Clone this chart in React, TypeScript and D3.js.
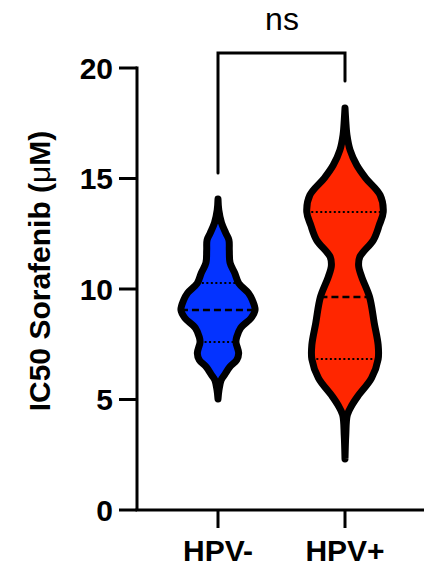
import React from "react";
import * as d3 from "d3";

const categories = ["HPV-", "HPV+"];
const colors = ["#0433FF", "#FF2600"];
const yTicks = [0, 5, 10, 15, 20];

// Violin profiles: value (µM) and relative density
const hpvNegValues = [14.07, 13.57, 12.99, 12.53, 12.22, 11.76, 11.18, 10.72, 10.27, 9.82, 9.5, 9.05, 8.69, 8.24, 7.83, 7.6, 7.1, 6.79, 6.47, 6.15, 5.88, 5.43, 5.02];
const hpvNegDensity = [0, 0.02, 0.09, 0.2, 0.28, 0.29, 0.31, 0.43, 0.53, 0.78, 0.88, 0.95, 0.85, 0.58, 0.48, 0.46, 0.53, 0.48, 0.3, 0.18, 0.08, 0.025, 0];
const hpvPosValues = [18.19, 17.65, 16.97, 16.29, 15.61, 15.02, 14.25, 13.48, 12.9, 12.22, 11.45, 11.04, 10.54, 9.64, 8.46, 7.47, 6.83, 5.97, 5.2, 4.75, 4.3, 3.39, 2.31];
const hpvPosDensity = [0, 0.018, 0.05, 0.13, 0.3, 0.53, 0.9, 0.98, 0.88, 0.73, 0.38, 0.35, 0.43, 0.63, 0.75, 0.85, 0.85, 0.68, 0.35, 0.18, 0.06, 0.02, 0];

// quartiles: [Q1, median, Q3]
const hpvNegQuartiles = [7.6, 9.05, 10.27];
const hpvPosQuartiles = [6.83, 9.64, 13.48];

const sigLabel = "ns";

export default function App() {
  const W = 424, H = 568;
  const y = d3.scaleLinear().domain([0, 20]).range([510, 68]);
  const x = d3.scalePoint().domain(categories).range([218, 345]);
  const w = d3.scaleLinear().domain([0, 1]).range([0, 39]);
  const axisX = 137;

  const groups = [
    { name: categories[0], vals: hpvNegValues, dens: hpvNegDensity, q: hpvNegQuartiles, color: colors[0] },
    { name: categories[1], vals: hpvPosValues, dens: hpvPosDensity, q: hpvPosQuartiles, color: colors[1] },
  ];

  const font = "'Liberation Sans', Arial, Helvetica, sans-serif";

  const densAt = (vals: number[], dens: number[], v: number) => {
    const pts = vals.map((vv, i) => [vv, dens[i]]).sort((a, b) => a[0] - b[0]);
    for (let i = 0; i < pts.length - 1; i++) {
      if (v >= pts[i][0] && v <= pts[i + 1][0]) {
        const t = (v - pts[i][0]) / (pts[i + 1][0] - pts[i][0]);
        return pts[i][1] + t * (pts[i + 1][1] - pts[i][1]);
      }
    }
    return 0;
  };

  return (
    <svg width={W} height={H} style={{ position: "absolute", left: 0, top: 0 }}>
      <rect width={W} height={H} fill="#fff" />
      {groups.map((g) => {
        const cx = x(g.name)!;
        const data = g.vals.map((v, i) => ({ v, d: g.dens[i] }));
        const area = d3
          .area<{ v: number; d: number }>()
          .y((d) => y(d.v))
          .x0((d) => cx - w(d.d))
          .x1((d) => cx + w(d.d))
          .curve(d3.curveCatmullRom.alpha(0.5));
        const p = area(data) || "";
        return (
          <g key={g.name}>
            <path d={p} fill={g.color} stroke="none" />
            {g.q.map((qv, i) => {
              const hw = w(densAt(g.vals, g.dens, qv));
              return (
                <line
                  key={i}
                  x1={cx - hw}
                  x2={cx + hw}
                  y1={y(qv)}
                  y2={y(qv)}
                  stroke="#000"
                  strokeWidth={i === 1 ? 2.5 : 2}
                  strokeDasharray={i === 1 ? "7,4" : "2,2.5"}
                />
              );
            })}
            <path d={p} fill="none" stroke="#000" strokeWidth={7} strokeLinejoin="round" strokeLinecap="round" />
          </g>
        );
      })}

      {/* Y axis */}
      <line x1={axisX} x2={axisX} y1={y(20) - 1.5} y2={y(0)} stroke="#000" strokeWidth={3} />
      {yTicks.map((t) => (
        <g key={t}>
          <line x1={axisX - 18} x2={axisX} y1={y(t)} y2={y(t)} stroke="#000" strokeWidth={3} />
          <text
            x={axisX - 24}
            y={y(t)}
            dy="0.36em"
            textAnchor="end"
            fontFamily={font}
            fontWeight="bold"
            fontSize={30}
          >
            {t}
          </text>
        </g>
      ))}

      {/* X axis */}
      <line x1={axisX - 1.5} x2={W} y1={y(0)} y2={y(0)} stroke="#000" strokeWidth={3} />
      {categories.map((c) => (
        <g key={c}>
          <line x1={x(c)!} x2={x(c)!} y1={y(0)} y2={y(0) + 18} stroke="#000" strokeWidth={3} />
          <text x={x(c)!} y={561} textAnchor="middle" fontFamily={font} fontWeight="bold" fontSize={30}>
            {c}
          </text>
        </g>
      ))}

      {/* Y label */}
      <text
        transform={`translate(50, 271) rotate(-90)`}
        textAnchor="middle"
        fontFamily={font}
        fontWeight="bold"
        fontSize={30}
      >
        IC50 Sorafenib (<tspan fontWeight="normal">μ</tspan>M)
      </text>

      {/* significance bracket */}
      <path
        d={`M${x(categories[0])},173 L${x(categories[0])},53 L${x(categories[1])},53 L${x(categories[1])},81`}
        fill="none"
        stroke="#000"
        strokeWidth={3}
        strokeLinejoin="miter"
        strokeLinecap="round"
      />
      <text x={282} y={30} textAnchor="middle" fontFamily={font} fontSize={32}>
        {sigLabel}
      </text>
    </svg>
  );
}
